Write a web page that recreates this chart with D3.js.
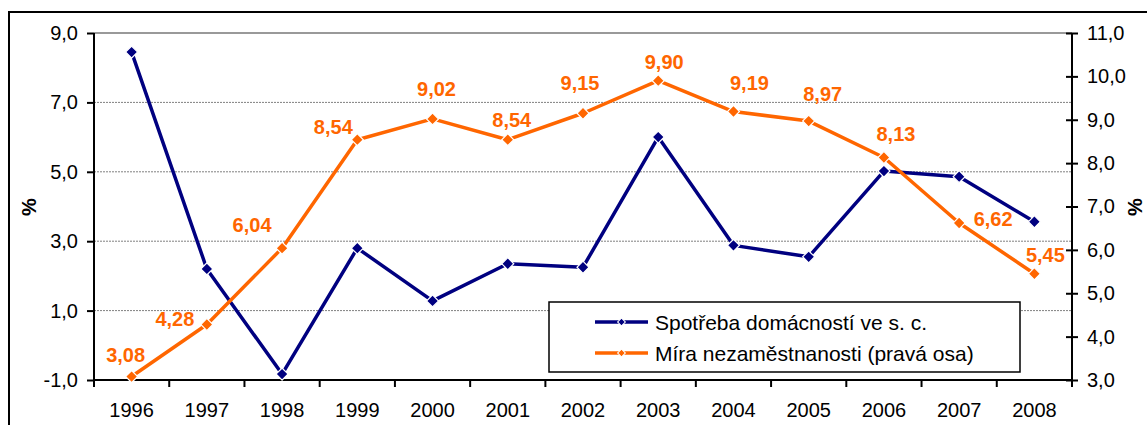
<!DOCTYPE html>
<html><head><meta charset="utf-8">
<script src="https://cdn.jsdelivr.net/npm/d3@7"></script>
<style>
html,body{margin:0;padding:0;background:#fff;}
svg{display:block;font-family:"Liberation Sans",Arial,sans-serif;}
</style></head>
<body><svg id="c" width="1147" height="425"></svg>
<script>
const years = ["1996","1997","1998","1999","2000","2001","2002","2003","2004","2005","2006","2007","2008"];
const consumption = [8.45, 2.2, -0.83, 2.8, 1.28, 2.35, 2.25, 6.0, 2.88, 2.55, 5.02, 4.86, 3.56];
const unemployment = [3.08, 4.28, 6.04, 8.54, 9.02, 8.54, 9.15, 9.90, 9.19, 8.97, 8.13, 6.62, 5.45];
const leftTicks = [-1, 1, 3, 5, 7, 9];
const rightTicks = [3, 4, 5, 6, 7, 8, 9, 10, 11];
const seriesNames = ["Spotřeba domácností ve s. c.", "Míra nezaměstnanosti (pravá osa)"];

// label nudges (style): [dx, dy] from point to label centre
const labelNudge = [[-6,-22],[-32,-5],[-30,-23],[-24,-13],[4,-30],[4,-20],[-3,-30],[6,-19],[16,-29],[14,-27],[12,-23],[34,-4],[11,-19]];

const BLUE = "#000080", ORANGE = "#FF6600";
const fmt1 = d => d3.format(".1f")(d).replace(".", ",").replace("\u2212", "-");
const fmt2 = d => d3.format(".2f")(d).replace(".", ",");

const svg = d3.select("#c");
const L = 94, R = 1072, T = 33, B = 380;

// outer border
svg.append("rect").attr("x", 9).attr("y", 12).attr("width", 1160).attr("height", 430)
  .attr("fill", "#fff").attr("stroke", "#000").attr("stroke-width", 2);

const x = d3.scaleBand().domain(years).range([L, R]).padding(0);
const cx = d => x(d) + x.bandwidth() / 2;
const yL = d3.scaleLinear().domain([-1, 9]).range([B, T]);
const yR = d3.scaleLinear().domain([3, 11]).range([B, T]);

// gridlines
svg.append("g").selectAll("line").data(leftTicks.filter(t => t > -1 && t < 9)).join("line")
  .attr("x1", L).attr("x2", R).attr("y1", d => yL(d)).attr("y2", d => yL(d))
  .attr("stroke", "#808080").attr("stroke-width", 1).attr("stroke-dasharray", "2,1");
svg.append("line").attr("x1", L).attr("x2", R).attr("y1", yL(9)).attr("y2", yL(9))
  .attr("stroke", "#999").attr("stroke-width", 2);

// left axis
const axL = svg.append("g").attr("transform", `translate(${L},0)`)
  .call(d3.axisLeft(yL).tickValues(leftTicks).tickFormat(fmt1).tickSize(7).tickPadding(9));
axL.select(".domain").attr("stroke", "#000").attr("stroke-width", 2).attr("d", `M0,${T}V${B}`);
axL.selectAll(".tick line").attr("stroke", "#000").attr("stroke-width", 2);
axL.selectAll(".tick text").attr("font-size", 20).attr("fill", "#000").attr("font-family", "Liberation Sans, Arial, sans-serif");

// right axis (cross ticks)
const axR = svg.append("g").attr("transform", `translate(${R},0)`)
  .call(d3.axisRight(yR).tickValues(rightTicks).tickFormat(fmt1).tickSize(6).tickPadding(9));
axR.select(".domain").attr("stroke", "#000").attr("stroke-width", 2).attr("d", `M0,${T}V${B}`);
axR.selectAll(".tick line").attr("stroke", "#000").attr("stroke-width", 2).attr("x1", -6);
axR.selectAll(".tick text").attr("font-size", 20).attr("fill", "#000").attr("font-family", "Liberation Sans, Arial, sans-serif");

// bottom axis
const axB = svg.append("g").attr("transform", `translate(0,${B})`)
  .call(d3.axisBottom(x).tickSize(0).tickPadding(23));
axB.select(".domain").attr("stroke", "#000").attr("stroke-width", 2).attr("d", `M${L},0H${R}`);
axB.selectAll(".tick text").attr("font-size", 20).attr("fill", "#000").attr("font-family", "Liberation Sans, Arial, sans-serif");
const bounds = years.map(d => x(d)).concat([R]);
axB.append("g").selectAll("line").data(bounds).join("line")
  .attr("x1", d => d).attr("x2", d => d).attr("y1", 0).attr("y2", 7)
  .attr("stroke", "#000").attr("stroke-width", 2);

// axis titles
svg.append("text").attr("transform", `translate(36,207) rotate(-90)`).attr("text-anchor", "middle")
  .attr("font-size", 20).attr("font-weight", "bold").text("%");
svg.append("text").attr("transform", `translate(1142,207) rotate(-90)`).attr("text-anchor", "middle")
  .attr("font-size", 20).attr("font-weight", "bold").text("%");

function drawSeries(vals, yScale, color) {
  const line = d3.line().x((d, i) => cx(years[i])).y(d => yScale(d));
  svg.append("path").datum(vals).attr("d", line).attr("fill", "none")
    .attr("stroke", color).attr("stroke-width", 3.5).attr("stroke-linejoin", "round");
  svg.append("g").selectAll("path").data(vals).join("path")
    .attr("transform", (d, i) => `translate(${cx(years[i])},${yScale(d)}) rotate(45)`)
    .attr("d", d3.symbol().type(d3.symbolSquare).size(72)())
    .attr("fill", color).attr("stroke", "#fff").attr("stroke-width", 1.2);
}
drawSeries(consumption, yL, BLUE);
drawSeries(unemployment, yR, ORANGE);

// data labels
svg.append("g").selectAll("text").data(unemployment).join("text")
  .attr("x", (d, i) => cx(years[i]) + labelNudge[i][0])
  .attr("y", (d, i) => yR(d) + labelNudge[i][1] + 7)
  .attr("text-anchor", "middle").attr("font-size", 20).attr("font-weight", "bold")
  .attr("fill", ORANGE).text(d => fmt2(d));

// legend
const lg = svg.append("g");
lg.append("rect").attr("x", 549).attr("y", 302).attr("width", 471).attr("height", 70)
  .attr("fill", "#fff").attr("stroke", "#000").attr("stroke-width", 1.5);
[[BLUE, 322], [ORANGE, 353]].forEach(([c, yy], i) => {
  lg.append("line").attr("x1", 595).attr("x2", 648).attr("y1", yy).attr("y2", yy)
    .attr("stroke", c).attr("stroke-width", 3.5);
  lg.append("path").attr("transform", `translate(621.5,${yy}) rotate(45)`)
    .attr("d", d3.symbol().type(d3.symbolSquare).size(30)())
    .attr("fill", c).attr("stroke", "#fff").attr("stroke-width", 1);
  lg.append("text").attr("x", 655).attr("y", yy + 7.5).attr("font-size", 21).attr("fill", "#000")
    .text(seriesNames[i]);
});
</script></body></html>
